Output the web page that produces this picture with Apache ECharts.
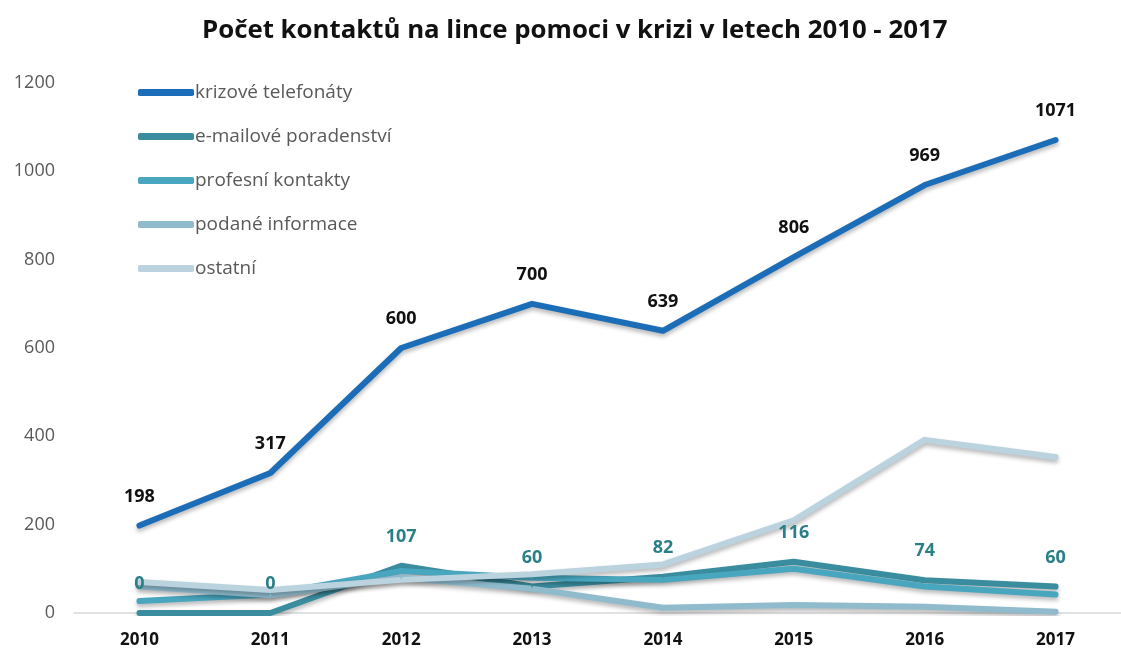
<!DOCTYPE html>
<html>
<head>
<meta charset="utf-8">
<script src="https://cdn.jsdelivr.net/npm/echarts@6/dist/echarts.min.js"></script>
<style>
  html, body { margin: 0; padding: 0; background: #fff; }
  #chart { width: 1121px; height: 653px; }
</style>
</head>
<body>
<div id="chart"></div>
<script>
// roky na ose x
const years = ["2010", "2011", "2012", "2013", "2014", "2015", "2016", "2017"];
// hodnoty jednotlivých řad
const krizoveTelefonaty = [198, 317, 600, 700, 639, 806, 969, 1071];
const emailovePoradenstvi = [0, 0, 107, 60, 82, 116, 74, 60];
const profesniKontakty = [27, 42, 95, 80, 75, 100, 60, 42];
const podaneInformace = [60, 40, 80, 55, 12, 18, 14, 3];
const ostatni = [70, 52, 75, 88, 110, 210, 392, 353];
const yTicks = [0, 200, 400, 600, 800, 1000, 1200];

const chart = echarts.init(document.getElementById("chart"));

const lineShadow = {
  shadowColor: "rgba(0,0,0,0.28)",
  shadowBlur: 4,
  shadowOffsetY: 3,
};

function makeSeries(name, data, color, showLabel, labelColor) {
  return {
    name: name,
    type: "line",
    data: data,
    symbol: "circle",
    symbolSize: 2,
    itemStyle: { color: color },
    lineStyle: Object.assign({ color: color, width: 6, cap: "round", join: "round" }, lineShadow),
    label: {
      show: showLabel,
      position: "top",
      distance: 19,
      color: labelColor,
      fontSize: 18,
      fontWeight: "bold",
      fontFamily: "Open Sans",
    },
    animation: false,
  };
}

chart.setOption({
  backgroundColor: "#ffffff",
  title: {
    text: "Počet kontaktů na lince pomoci v krizi v letech 2010 - 2017",
    left: 197,
    top: 13,
    textStyle: {
      fontFamily: "Open Sans",
      fontSize: 25.8,
      fontWeight: "bold",
      color: "#111111",
    },
  },
  legend: {
    orient: "vertical",
    left: 133,
    top: 77,
    icon: "roundRect",
    itemWidth: 56,
    itemHeight: 7,
    itemGap: 23,
    textStyle: {
      color: "#595959",
      fontSize: 19,
      fontFamily: "Open Sans",
      lineHeight: 21,
      padding: [0, 0, 0, -4],
    },
  },
  grid: {
    left: 74,
    top: 83,
    width: 1054,
    bottom: 40,
    containLabel: false,
  },
  xAxis: {
    type: "category",
    data: years,
    boundaryGap: true,
    axisLine: { show: true, lineStyle: { color: "#d9d9d9", width: 1.5 } },
    axisTick: { show: false },
    axisLabel: {
      color: "#111111",
      fontSize: 17,
      fontWeight: "bold",
      fontFamily: "Open Sans",
      margin: 19,
    },
  },
  yAxis: {
    type: "value",
    min: yTicks[0],
    max: yTicks[yTicks.length - 1],
    interval: 200,
    axisLine: { show: false },
    axisTick: { show: false },
    splitLine: { show: false },
    axisLabel: {
      color: "#595959",
      fontSize: 18,
      fontFamily: "Open Sans",
      margin: 19,
      formatter: function (v) { return String(v); },
    },
  },
  series: [
    makeSeries("krizové telefonáty", krizoveTelefonaty, "#1c6db8", true, "#111111"),
    makeSeries("e-mailové poradenství", emailovePoradenstvi, "#3a8d9f", true, "#2b8088"),
    makeSeries("profesní kontakty", profesniKontakty, "#48a6be", false),
    makeSeries("podané informace", podaneInformace, "#8fbbcd", false),
    makeSeries("ostatní", ostatni, "#bad3df", false),
  ],
});
</script>
</body>
</html>
